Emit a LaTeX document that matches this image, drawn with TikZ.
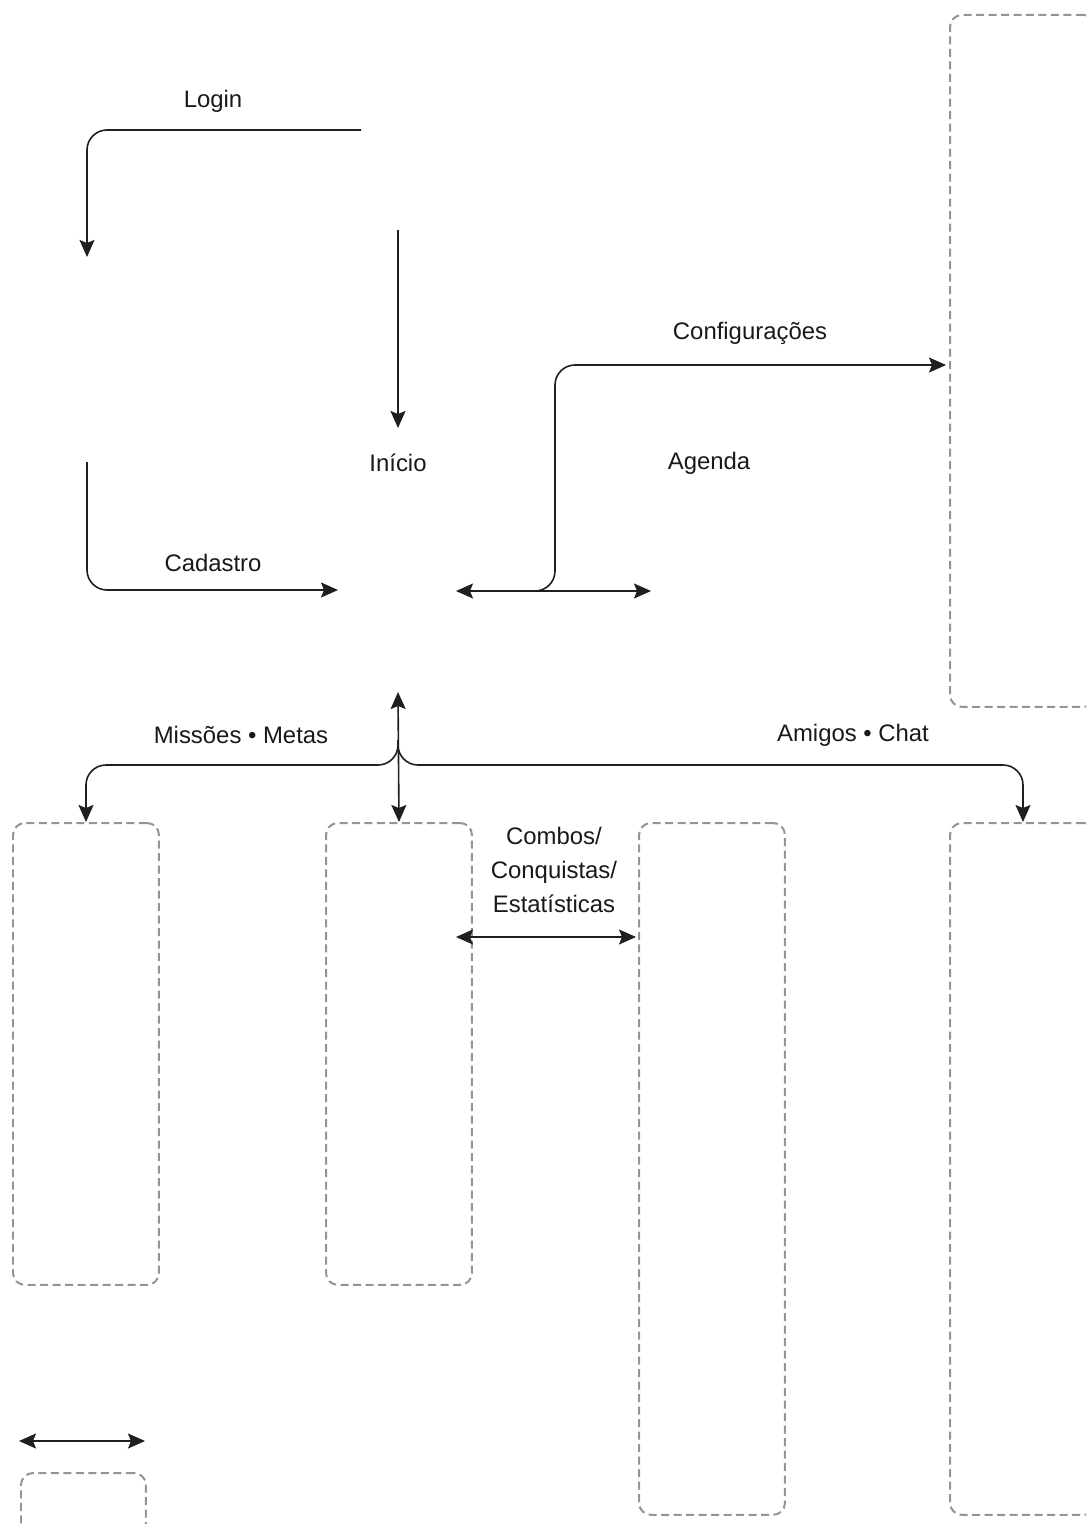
\documentclass[tikz,border=0pt]{standalone}
\usepackage{fontspec}
\setmainfont{Liberation Sans}
\usetikzlibrary{arrows.meta,positioning}

\tikzset{
    tip/.tip={Stealth[length=0.34cm,width=0.3cm,inset=0.06cm]},
    screen/.style={draw=black!42, line width=0.04cm, dash pattern=on 0.16cm off 0.09cm,
        rounded corners=0.24cm, minimum width=2.92cm, inner sep=0pt},
    flow/.style={-tip, line width=0.032cm, draw=black!88, rounded corners=0.4cm},
    both/.style={flow, tip-tip},
    label/.style={font=\fontsize{13.6pt}{19.5pt}\selectfont, text=black!90, align=center}
}

\begin{document}
\begin{tikzpicture}[x=0.02cm, y=-0.02cm]
    \useasboundingbox (0,0) rectangle (1086,1524);
    \clip (0,0) rectangle (1086,1524);

    % screens
    \node (ajustes) [screen, minimum height=13.84cm, anchor=north west] at (949,14) {};
    \node (missoes) [screen, minimum height=9.24cm, anchor=north west] at (12,822) {};
    \node (perfil) [screen, minimum height=9.24cm, anchor=north west] at (325,822) {};
    \node (combos) [screen, minimum height=13.84cm, anchor=north west] at (638,822) {};
    \node (amigos) [screen, minimum height=13.84cm, anchor=north west] at (949,822) {};
    \node (legbox) [screen, minimum width=2.5cm, minimum height=1.6cm, anchor=north west] at (20,1472) {};

    % labels
    \node (login) [label] at (213,101) {Login};
    \node (inicio) [label] at (398,463) {Início};
    \node (cadastro) [label] at (213,563) {Cadastro};
    \node (config) [label] at (750,333) {Configurações};
    \node (agenda) [label] at (709,463) {Agenda};
    \node (metas) [label] at (241,735) {Missões • Metas};
    \node (chat) [label] at (853,735) {Amigos • Chat};
    \node (stats) [label] at (554,870) {Combos/\\Conquistas/\\Estatísticas};

    % ends of the arrows
    \coordinate (loginA) at (361,130);
    \coordinate (loginB) at (87,257);
    \coordinate (inicioA) at (398,230);
    \coordinate (inicioB) at (398,428);
    \coordinate (cadA) at (87,462);
    \coordinate (cadB) at (338,590);
    \coordinate (agA) at (456,591);
    \coordinate (agB) at (651,591);
    \coordinate (agFork) at (535,591);
    \coordinate (cfgB) at (946,365);
    \coordinate (hubA) at (398,692);
    \coordinate (hubFork) at (398,740);
    \coordinate (stA) at (456,937);
    \coordinate (stB) at (636,937);
    \coordinate (legA) at (19,1441);
    \coordinate (legB) at (145,1441);

    \draw [flow] (loginA) -| (loginB);
    \draw [flow] (inicioA) -- (inicioB);
    \draw [flow] (cadA) |- (cadB);
    \draw [both] (agA) -- (agB);
    \draw [flow] (agFork) -- (555,591) -- (555,365) -- (cfgB);
    \draw [both] (hubA) -- (perfil.north);
    \draw [flow] (hubFork) -- (398,765) -| (missoes.north);
    \draw [flow] (hubFork) -- (398,765) -| (amigos.north);
    \draw [both] (stA) -- (stB);
    \draw [both] (legA) -- (legB);
\end{tikzpicture}
\end{document}
